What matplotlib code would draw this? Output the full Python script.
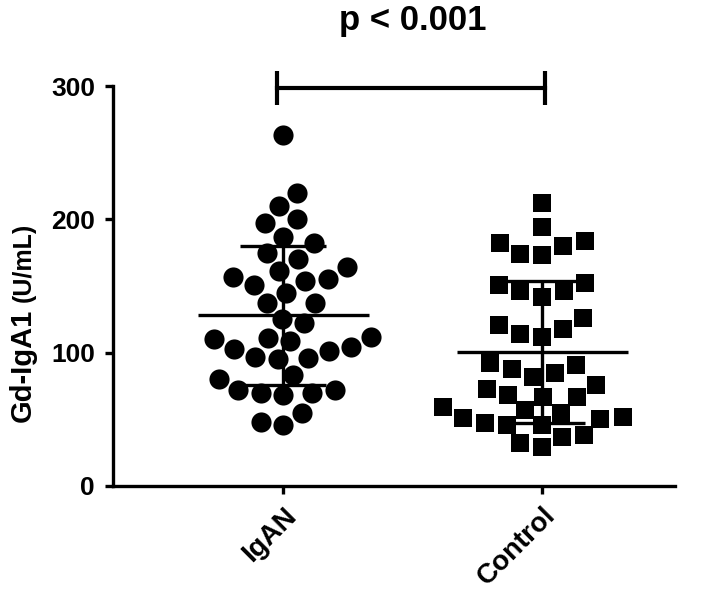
import matplotlib
matplotlib.use('Agg')
import matplotlib.pyplot as plt
import numpy as np

groups = ['IgAN', 'Control']

igan_values = [263, 220, 210, 200, 197, 187, 182, 175, 170, 164, 161, 155, 154, 157,
	151, 145, 137, 137, 122, 125, 112, 111, 109, 103, 97, 96, 95, 101, 104, 110,
	83, 80, 72, 70, 68, 70, 72, 55, 46, 48]

control_values = [212, 194, 184, 180, 173, 174, 182, 151, 146, 142, 146, 152, 126,
	118, 112, 114, 121, 92, 88, 85, 91, 82, 76, 68, 67, 67, 73, 57, 52, 50, 47, 51,
	55, 59, 46, 37, 29, 32, 38, 46]

y_ticks = [0, 100, 200, 300]
p_label = 'p < 0.001'


def swarm_offsets(values, y_scale, d):
	# simple beeswarm in pixel space, returns x offsets in pixels
	ys = np.asarray(values, dtype=float) * y_scale
	order = np.argsort(ys)
	placed = []
	xs = np.zeros(len(ys))
	for idx in order:
		y = ys[idx]
		cands = [0.0]
		for (px, py) in placed:
			dy = abs(py - y)
			if dy < d:
				dx = np.sqrt(d * d - dy * dy)
				cands += [px + dx, px - dx]
		cands.sort(key=lambda c: (abs(c), c))
		for c in cands:
			ok = True
			for (px, py) in placed:
				if (px - c) ** 2 + (py - y) ** 2 < d * d - 1e-6:
					ok = False
					break
			if ok:
				xs[idx] = c
				placed.append((c, y))
				break
	return xs


plt.rcParams['font.family'] = ['Liberation Sans', 'DejaVu Sans']
plt.rcParams['font.weight'] = 'bold'

fig = plt.figure(figsize=(7.2, 6.02), dpi=100)
ax = fig.add_axes([0.157, 0.193, 0.781, 0.664])
ax.set_xlim(-0.656, 1.514)
ax.set_ylim(0, 300)

p0 = ax.transData.transform((0, 0))
p1 = ax.transData.transform((1, 1))
x_px = p1[0] - p0[0]
y_px = p1[1] - p0[1]

markers = ['o', 's']
sizes = [14.5 ** 2, 13 ** 2]
for i, vals in enumerate([igan_values, control_values]):
	offs = swarm_offsets(vals, y_px, 22.5) / x_px
	ax.scatter(i + offs, vals, s=sizes[i], marker=markers[i], color='black',
		linewidths=0, zorder=3)

# mean +/- SD
for i, vals in enumerate([igan_values, control_values]):
	m = np.mean(vals)
	sd = np.std(vals, ddof=1)
	ax.hlines(m, i - 0.33, i + 0.33, color='black', lw=2.4, zorder=5)
	ax.vlines(i, m - sd, m + sd, color='black', lw=2.4, zorder=5)
	ax.hlines([m - sd, m + sd], i - 0.165, i + 0.165, color='black', lw=2.4, zorder=5)

# significance bracket
ax.plot([-0.023, 1.01], [298.5, 298.5], color='black', lw=3, clip_on=False)
ax.vlines([-0.023, 1.01], 286, 311, color='black', lw=3, clip_on=False)
ax.text(0.5, 349, p_label, ha='center', va='center', fontsize=25,
	fontweight='bold', clip_on=False)

for s in ['top', 'right']:
	ax.spines[s].set_visible(False)
for s in ['left', 'bottom']:
	ax.spines[s].set_linewidth(2.4)

ax.set_yticks(y_ticks)
ax.set_yticklabels([str(t) for t in y_ticks], fontsize=19, fontweight='bold')
ax.set_xticks([0, 1])
ax.set_xticklabels(groups, fontsize=20, fontweight='bold', rotation=45,
	ha='right', va='top', rotation_mode='anchor')
ax.tick_params(axis='both', length=6, width=2.4, color='black')
ax.tick_params(axis='y', pad=7)
ax.tick_params(axis='x', pad=6)

fig.text(0.031, (602 - 422) / 602, 'Gd-IgA1', rotation=90, ha='center',
	va='bottom', fontsize=21, fontweight='bold')
fig.text(0.033, (602 - 302) / 602, '(U/mL)', rotation=90, ha='center',
	va='bottom', fontsize=18, fontweight='bold')

fig.savefig('out.png', dpi=100, facecolor='white')
